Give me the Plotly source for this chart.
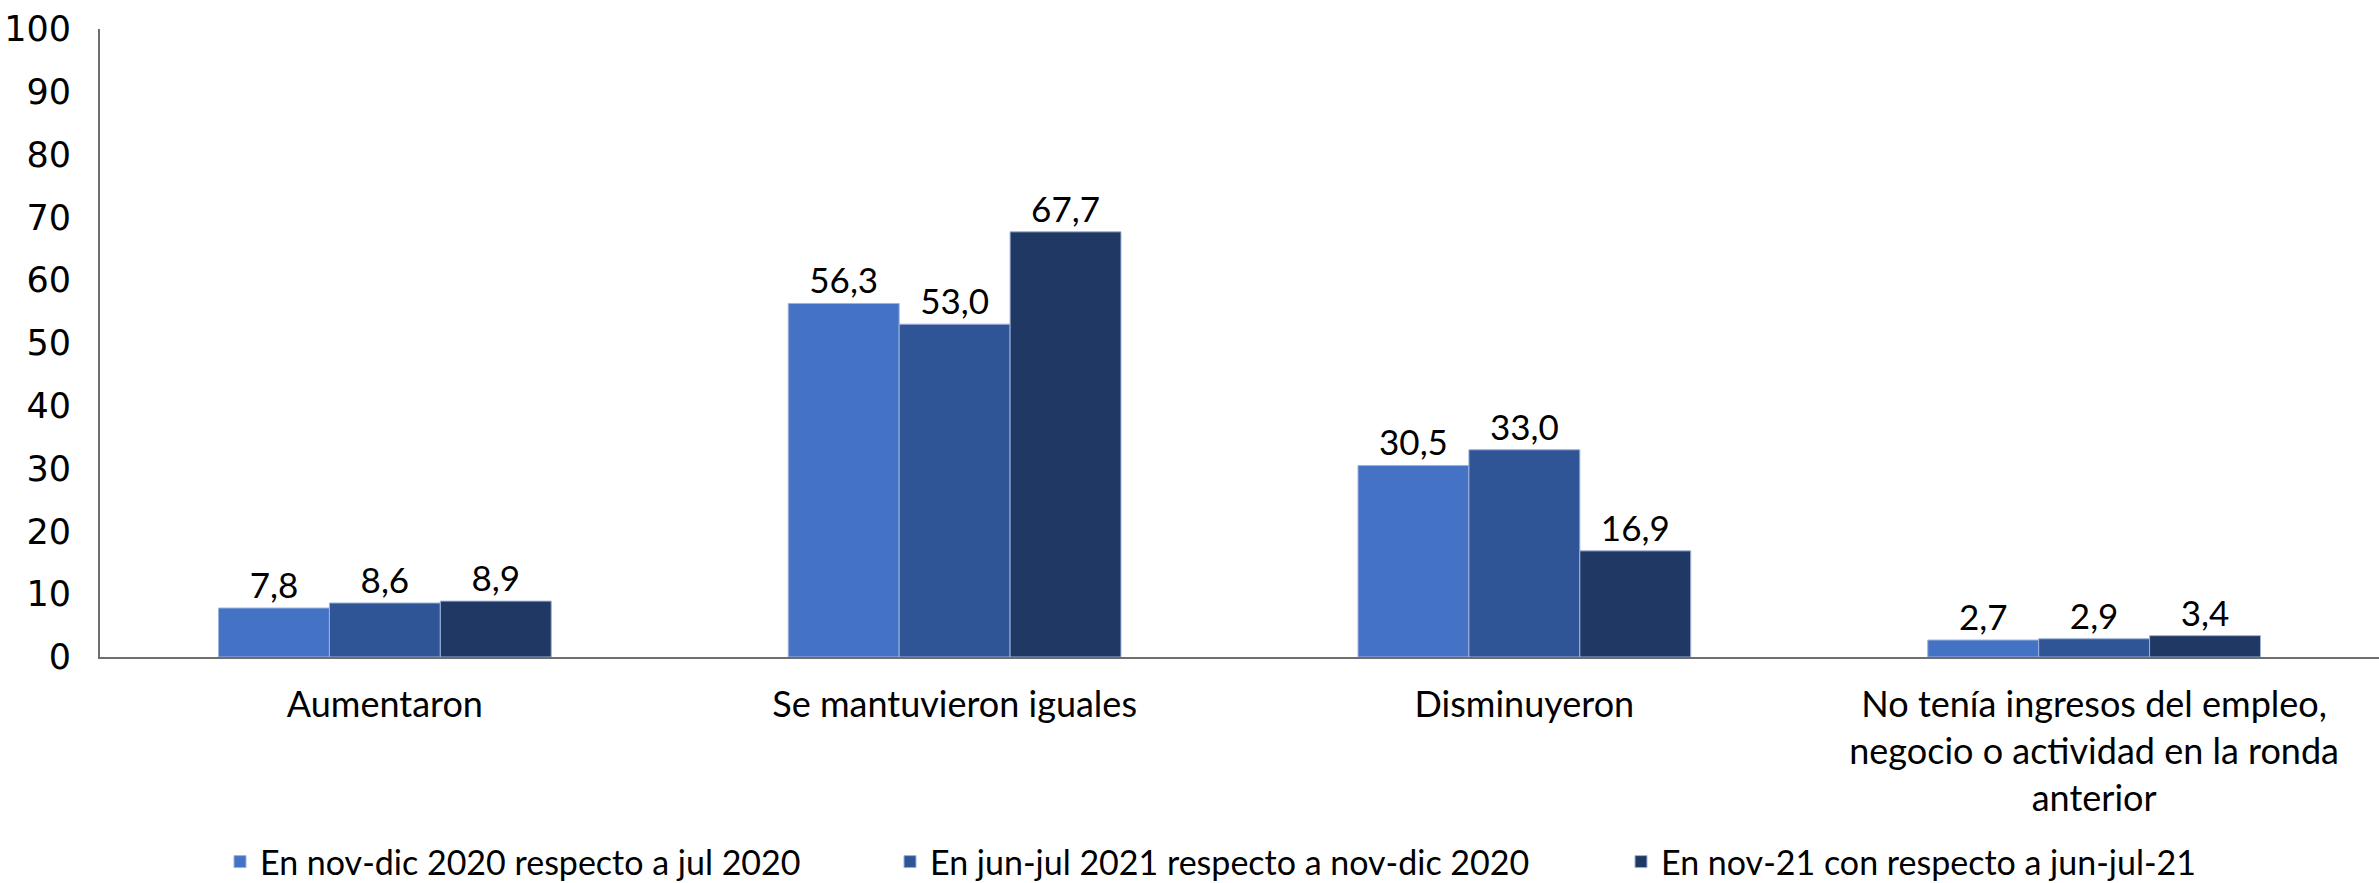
import plotly.graph_objects as go

categories = [
    "Aumentaron",
    "Se mantuvieron iguales",
    "Disminuyeron",
    "No tenía ingresos del empleo,<br>negocio o actividad en la ronda<br>anterior",
]
series_names = [
    "En nov-dic 2020 respecto a jul 2020",
    "En jun-jul 2021 respecto a nov-dic 2020",
    "En nov-21 con respecto a jun-jul-21",
]
values_s1 = [7.8, 56.3, 30.5, 2.7]
values_s2 = [8.6, 53.0, 33.0, 2.9]
values_s3 = [8.9, 67.7, 16.9, 3.4]
y_ticks = [0, 10, 20, 30, 40, 50, 60, 70, 80, 90, 100]

colors = ["#4472C4", "#2F5597", "#203864"]
W, H = 2379, 883
ml, mr, mt, mb = 100, 0, 29, 226
TEXT_FONT = "Lato, 'Open Sans', sans-serif"

# legend left edges (px) for each separate legend
legend_px = [220, 890, 1621]
legend_center_px = 862

fig = go.Figure()
for i, (name, vals) in enumerate(zip(series_names, [values_s1, values_s2, values_s3])):
    fig.add_trace(go.Bar(
        x=categories, y=vals, name=name,
        marker=dict(color=colors[i], line=dict(color="#9DB3DB", width=1)),
        text=[f"{v:.1f}".replace(".", ",") for v in vals],
        textposition="outside", cliponaxis=False,
        textfont=dict(family=TEXT_FONT, size=35, color="#000000"),
        legend="legend" if i == 0 else f"legend{i+1}",
    ))

layout_legends = {}
for i, px in enumerate(legend_px):
    key = "legend" if i == 0 else f"legend{i+1}"
    layout_legends[key] = dict(
        x=px / W, xref="container",
        y=1 - legend_center_px / H, yref="container",
        xanchor="left", yanchor="middle", orientation="h",
        font=dict(family=TEXT_FONT, size=34, color="#000000"),
        bgcolor="rgba(0,0,0,0)",
    )

fig.update_layout(
    width=W, height=H,
    margin=dict(l=ml, r=mr, t=mt, b=mb, pad=0, autoexpand=False),
    paper_bgcolor="white", plot_bgcolor="white",
    barmode="group", bargap=0.416, bargroupgap=0,
    showlegend=True,
    **layout_legends,
)
fig.update_xaxes(
    showline=True, linecolor="#6E6E6E", linewidth=2, automargin=False,
    ticks="outside", ticklen=15, tickcolor="rgba(0,0,0,0)",
    tickfont=dict(family=TEXT_FONT, size=36, color="#000000"),
    showgrid=False, tickangle=0,
)
fig.update_yaxes(
    range=[0, 100], tickvals=y_ticks, showgrid=False, zeroline=False,
    showline=True, linecolor="#6E6E6E", linewidth=2, automargin=False,
    ticks="outside", ticklen=20, tickcolor="rgba(0,0,0,0)",
    tickfont=dict(family="'DejaVu Sans', sans-serif", size=35, color="#000000"),
)

fig.write_html(
    "out.html",
    config={"displayModeBar": False},
    post_script="document.body.style.margin='0px';document.body.style.overflow='hidden';",
)
